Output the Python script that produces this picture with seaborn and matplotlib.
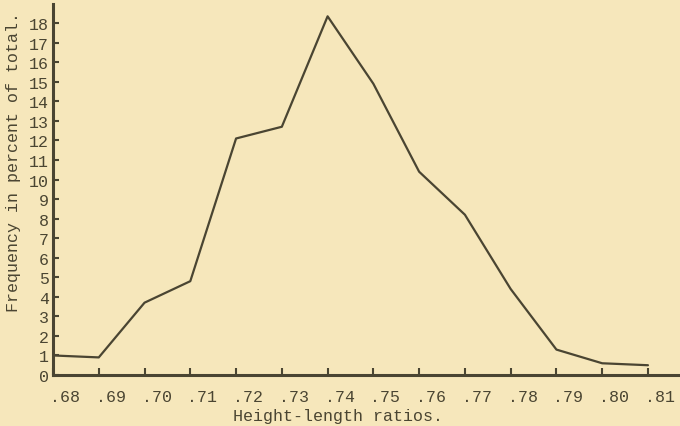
import matplotlib
matplotlib.use('Agg')
import matplotlib.pyplot as plt
import matplotlib.transforms as mtransforms
import pandas as pd
import seaborn as sns

# height-length ratio classes and frequency (percent of total)
ratios = [0.68, 0.69, 0.70, 0.71, 0.72, 0.73, 0.74,
          0.75, 0.76, 0.77, 0.78, 0.79, 0.80, 0.81]
freq = [1.0, 0.9, 3.7, 4.8, 12.1, 12.7, 18.35,
        14.9, 10.4, 8.2, 4.4, 1.3, 0.6, 0.5]
x_labels = ['.68', '.69', '.70', '.71', '.72', '.73', '.74',
            '.75', '.76', '.77', '.78', '.79', '.80', '.81']
y_ticks = list(range(0, 19))

paper = '#f6e7bb'
ink = '#4a4532'

sns.set_style('ticks')
plt.rcParams['font.family'] = ['Liberation Mono', 'DejaVu Sans Mono']

df = pd.DataFrame({'ratio': ratios, 'freq': freq})

fig = plt.figure(figsize=(6.8, 4.27), dpi=100, facecolor=paper)
ax = fig.add_axes([53 / 680, 51 / 427, 627 / 680, 371 / 427])
ax.set_facecolor(paper)

sns.lineplot(data=df, x='ratio', y='freq', ax=ax, color=ink, linewidth=1.6)

ax.set_xlim(0.68, 0.817)
ax.set_ylim(0, 18.98)

ax.set_xticks(ratios)
ax.set_xticklabels(x_labels)
ax.set_yticks(y_ticks)
ax.set_yticklabels([str(v) for v in y_ticks])

ax.tick_params(axis='x', direction='in', length=5, width=1.5, color=ink,
               labelcolor=ink, labelsize=12, pad=10)
ax.tick_params(axis='y', direction='in', length=4, width=1.5, color=ink,
               labelcolor=ink, labelsize=12, pad=3)

# typewritten labels sit a bit right of the ticks
offset = mtransforms.ScaledTranslation(12 / 100, 0, fig.dpi_scale_trans)
for lbl in ax.get_xticklabels():
    lbl.set_transform(lbl.get_transform() + offset)

sns.despine(ax=ax)
for side in ['left', 'bottom']:
    ax.spines[side].set_color(ink)
    ax.spines[side].set_linewidth(2.2)

ax.set_xlabel('')
ax.set_ylabel('')
fig.text(338 / 680, 1 - 417 / 427, 'Height-length ratios.', ha='center',
         va='center', fontsize=12, color=ink)
fig.text(14 / 680, 1 - 162 / 427, 'Frequency in percent of total.',
         rotation=90, ha='center', va='center', fontsize=12, color=ink)

fig.savefig('out.png', dpi=100, facecolor=paper)
plt.close(fig)
